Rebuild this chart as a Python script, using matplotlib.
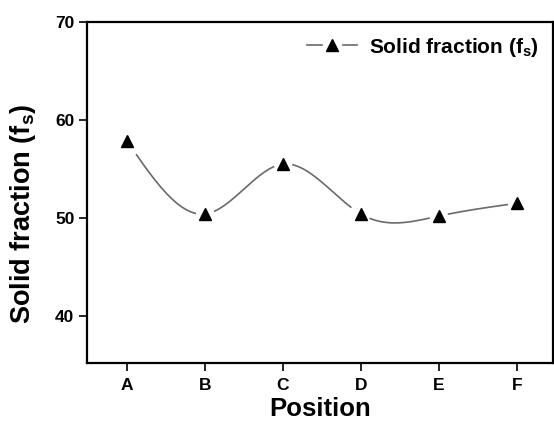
import numpy as np
import matplotlib
matplotlib.use("Agg")
import matplotlib.pyplot as plt
from matplotlib.lines import Line2D
from matplotlib.legend_handler import HandlerTuple

positions = ["A", "B", "C", "D", "E", "F"]
solid_fraction = [57.9, 50.4, 55.5, 50.4, 50.2, 51.5]

plt.rcParams['font.family'] = ['Liberation Sans', 'DejaVu Sans']
plt.rcParams['font.weight'] = 'bold'
plt.rcParams['mathtext.fontset'] = 'custom'
plt.rcParams['mathtext.rm'] = 'Liberation Sans:bold'
plt.rcParams['mathtext.it'] = 'Liberation Sans:bold'
plt.rcParams['mathtext.bf'] = 'Liberation Sans:bold'


def natural_spline(x, y, n=400):
    x = np.asarray(x, float); y = np.asarray(y, float)
    m = len(x); h = np.diff(x)
    A = np.zeros((m, m)); b = np.zeros(m)
    A[0, 0] = 1; A[-1, -1] = 1
    for i in range(1, m - 1):
        A[i, i - 1] = h[i - 1]; A[i, i] = 2 * (h[i - 1] + h[i]); A[i, i + 1] = h[i]
        b[i] = 3 * ((y[i + 1] - y[i]) / h[i] - (y[i] - y[i - 1]) / h[i - 1])
    c = np.linalg.solve(A, b)
    xs = np.linspace(x[0], x[-1], n); ys = np.empty_like(xs)
    for k, xv in enumerate(xs):
        i = min(np.searchsorted(x, xv, side='right') - 1, m - 2)
        dx = xv - x[i]
        bi = (y[i + 1] - y[i]) / h[i] - h[i] * (2 * c[i] + c[i + 1]) / 3
        di = (c[i + 1] - c[i]) / (3 * h[i])
        ys[k] = y[i] + bi * dx + c[i] * dx ** 2 + di * dx ** 3
    return xs, ys

xi = np.arange(len(positions))
xs, ys = natural_spline(xi, solid_fraction)

fig = plt.figure(figsize=(5.54, 4.24), dpi=100)
ax = fig.add_axes([0.157, 0.144, 0.841, 0.804])

line_color = '#6a6a6a'
mask = np.ones_like(xs, dtype=bool)
for x0 in xi:
    mask &= np.abs(xs - x0) > 0.12
ys_gap = np.where(mask, ys, np.nan)
ax.plot(xs, ys_gap, color=line_color, lw=1.2, zorder=2)
ax.plot(xi, solid_fraction, linestyle='none', marker='^', color='black', ms=8.5, zorder=3)

h_line = Line2D([], [], color=line_color, lw=1.2)
h_gap = Line2D([], [], linestyle='none', marker='s', color='white', ms=13)
h_mark = Line2D([], [], linestyle='none', marker='^', color='black', ms=8)
ax.legend([(h_line, h_gap, h_mark)], [r'Solid fraction (f$_{\rm s}$)'],
          handler_map={tuple: HandlerTuple(ndivide=1, pad=0)},
          loc='upper right', frameon=False, fontsize=15, handlelength=2.4,
          borderaxespad=0.25, handletextpad=0.6)

ax.set_xlim(-0.51, 5.46)
ax.set_ylim(35.2, 70)
ax.set_xticks(xi)
ax.set_xticklabels(positions)
ax.set_yticks([40, 50, 60, 70])
ax.tick_params(direction='out', length=6, width=1.2, labelsize=12.5, pad=3,
               top=False, right=False)
ax.tick_params(axis='x', pad=5)
for lab in ax.get_xticklabels() + ax.get_yticklabels():
    lab.set_fontweight('bold')
for s in ax.spines.values():
    s.set_linewidth(1.6)

ax.set_xlabel('Position', fontsize=18.5, fontweight='bold', labelpad=3)
ax.set_ylabel(r'Solid fraction (f$_{\rm s}$)', fontsize=19.5, fontweight='bold')
ax.yaxis.set_label_coords(-0.105, 0.437)

fig.savefig('out.png', dpi=100)
